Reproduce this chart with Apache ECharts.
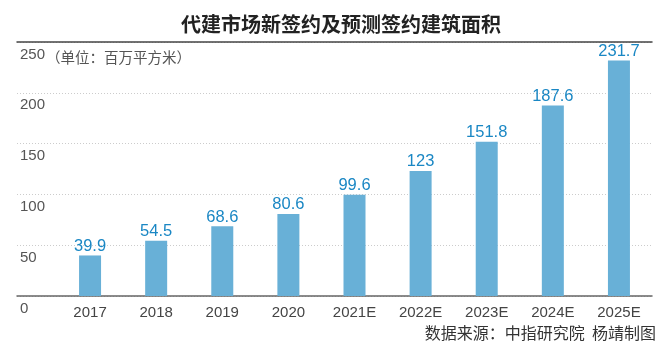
<!DOCTYPE html>
<html>
<head>
<meta charset="utf-8">
<script src="https://cdn.jsdelivr.net/npm/echarts@6/dist/echarts.min.js"></script>
<style>html,body{margin:0;padding:0;background:#fff}#c{width:667px;height:358px}</style>
</head>
<body>
<div id="c"></div>
<script>
const categories = ['2017','2018','2019','2020','2021E','2022E','2023E','2024E','2025E'];
const values = [39.9, 54.5, 68.6, 80.6, 99.6, 123, 151.8, 187.6, 231.7];
const valueLabels = ['39.9','54.5','68.6','80.6','99.6','123','151.8','187.6','231.7'];
const yMin = 0, yMax = 250, yStep = 50;
const titleText = '代建市场新签约及预测签约建筑面积';
const unitText = '（单位：百万平方米）';
const sourceText = '数据来源：中指研究院  杨靖制图';

const FONT = '"Liberation Sans", "Noto Sans CJK SC", sans-serif';
const chart = echarts.init(document.getElementById('c'), null, {renderer:'canvas'});
chart.setOption({
  animation: false,
  backgroundColor: '#fff',
  title: {
    text: titleText, left: 176, top: 9,
    textStyle: {fontFamily: '"Noto Sans CJK SC", sans-serif', fontWeight: 'bold', fontSize: 20, color: '#222'}
  },
  graphic: [
    {type:'text', left: 46, top: 50, style:{text: unitText, font: '14.5px "Noto Sans CJK SC", sans-serif', fill:'#555'}},
    {type:'text', right: 11, top: 325, style:{text: sourceText, font: '16px "Noto Sans CJK SC", sans-serif', fill:'#333'}}
  ],
  grid: [
    {left: 17, right: 15, top: 42, bottom: 62},
    {left: 57, right: 15, top: 42, bottom: 62}
  ],
  xAxis: [
    {gridIndex:0, type:'value', min:0, max:1, position:'top', show:true,
     axisLine:{show:true, onZero:false, lineStyle:{color:'#444', width:1.5}}, axisTick:{show:false}, axisLabel:{show:false}, splitLine:{show:false}},
    {gridIndex:0, type:'value', min:0, max:1, position:'bottom', show:true,
     axisLine:{show:true, onZero:false, lineStyle:{color:'#666', width:1.5}}, axisTick:{show:false}, axisLabel:{show:false}, splitLine:{show:false}},
    {gridIndex:1, type:'category', data: categories, position:'bottom',
     axisLine:{show:false}, axisTick:{show:false},
     axisLabel:{color:'#444', fontSize:15, fontFamily: FONT, margin:9}}
  ],
  yAxis: [
    {gridIndex:0, type:'value', min:yMin, max:yMax, interval:yStep,
     axisLine:{show:false}, axisTick:{show:false},
     axisLabel:{inside:true, margin:3, color:'#555', fontSize:15, fontFamily: FONT, verticalAlign:'top', padding:[5,0,0,0]},
     splitLine:{show:true, lineStyle:{color:'#ccc', type:[1,2], width:1}}},
    {gridIndex:1, type:'value', min:yMin, max:yMax, interval:yStep, show:false, splitLine:{show:false}}
  ],
  series: [{
    type:'bar', xAxisIndex:2, yAxisIndex:1, data: values, barWidth:22,
    itemStyle:{color:'#68b0d7'},
    label:{show:true, position:'top', distance:1, color:'#1a87c4', fontSize:16.5, fontFamily: FONT,
      formatter: p => valueLabels[p.dataIndex]}
  }]
});
</script>
</body>
</html>
